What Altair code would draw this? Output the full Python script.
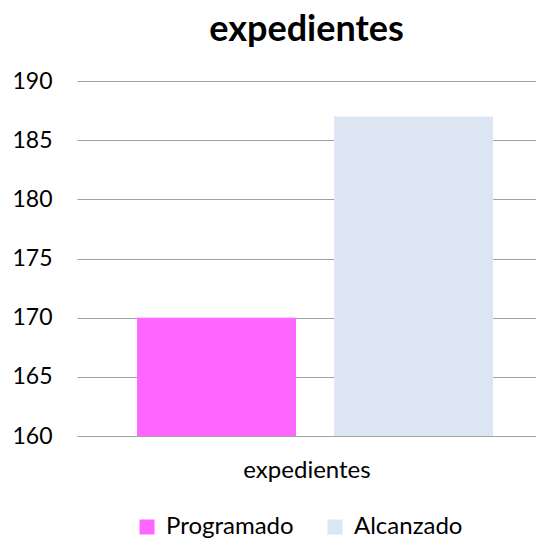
import altair as alt
import pandas as pd

series = ["Programado", "Alcanzado"]
values = [170, 187]
colors = ["#FF66FF", "#DCE6F2"]
y_ticks = [160, 165, 170, 175, 180, 185, 190]

df = pd.DataFrame({"serie": series, "valor": values, "base": [160, 160]})

FONT = "Lato"

chart = alt.Chart(df).mark_bar().encode(
    x=alt.X("serie:N", sort=series,
            scale=alt.Scale(paddingInner=0.193, paddingOuter=0.2614, align=0.583),
            axis=alt.Axis(title="expedientes", labels=False, ticks=False, domain=False,
                          titleFontSize=24, titleFontWeight="normal", titleFont=FONT,
                          titleColor="#000000", titlePadding=22)),
    y=alt.Y("valor:Q", scale=alt.Scale(domain=[160, 190], zero=False, nice=False),
            axis=alt.Axis(title=None, values=y_ticks, domain=False, ticks=False,
                          labelFontSize=23, labelFont=FONT, labelColor="#000000",
                          labelPadding=25, gridColor="#A0A0A0", gridWidth=1.2)),
    y2=alt.Y2("base:Q"),
    color=alt.Color("serie:N", sort=series,
                    scale=alt.Scale(domain=series, range=colors),
                    legend=alt.Legend(title=None, orient="none", direction="horizontal",
                                      legendX=58, legendY=434,
                                      symbolType="square", symbolSize=225,
                                      labelFontSize=24, labelFont=FONT, labelColor="#000000",
                                      labelOffset=7, columnPadding=29, symbolStrokeWidth=0)),
).properties(
    width=459, height=355,
    title=alt.Title("expedientes", fontSize=36, font=FONT, fontWeight="bold",
                    color="#000000", offset=21),
    autosize=alt.AutoSizeParams(type="none"),
    padding={"left": 69, "top": 73, "right": 0, "bottom": 105},
).configure_view(stroke=None).configure_axisY(gridOpacity=1)

chart.save("out.html", embed_options={"renderer": "svg", "actions": False})
